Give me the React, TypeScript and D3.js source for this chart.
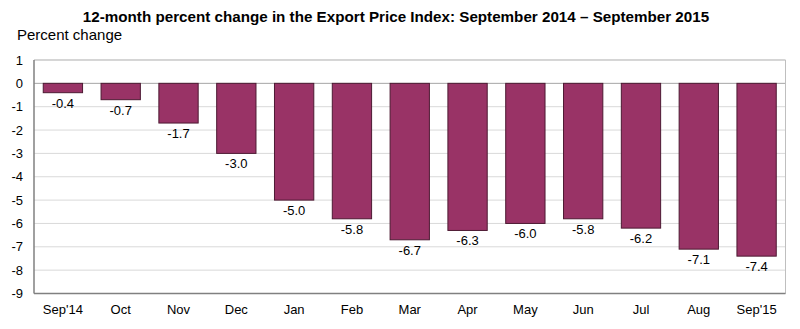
import React from "react";
import * as d3 from "d3";

const categories = ["Sep'14", "Oct", "Nov", "Dec", "Jan", "Feb", "Mar", "Apr", "May", "Jun", "Jul", "Aug", "Sep'15"];
const values = [-0.4, -0.7, -1.7, -3.0, -5.0, -5.8, -6.7, -6.3, -6.0, -5.8, -6.2, -7.1, -7.4];
const yTicks = [1, 0, -1, -2, -3, -4, -5, -6, -7, -8, -9];

const W = 800, H = 329;
const left = 34, right = 785.5, top = 60, bottom = 293.5;
const font = "Arial, 'Liberation Sans', sans-serif";

export default function App() {
  const x = d3.scaleBand<string>().domain(categories).range([left, right]).paddingInner(0.32).paddingOuter(0.16);
  const y = d3.scaleLinear().domain([-9, 1]).range([bottom, top]);
  return (
    <svg width={W} height={H} style={{ position: "absolute", left: 0, top: 0 }} fontFamily={font}>
      <rect x={0} y={0} width={W} height={H} fill="#fff" />
      <text x={396} y={22} textAnchor="middle" fontWeight="bold" fontSize={15.2} fill="#000">
        12-month percent change in the Export Price Index: September 2014 – September 2015
      </text>
      <text x={17} y={40} fontSize={15} fill="#000">Percent change</text>
      {yTicks.map((t) => (
        <line key={"g" + t} x1={left} x2={right} y1={y(t)} y2={y(t)} stroke={t === 0 ? "#a6a6a6" : "#d9d9d9"} strokeWidth={1} />
      ))}
      <line x1={right} x2={right} y1={top} y2={bottom} stroke="#bfbfbf" />
      <line x1={left} x2={right} y1={top} y2={top} stroke="#bfbfbf" />
      {values.map((v, i) => (
        <rect key={"b" + i} x={x(categories[i])} y={y(0)} width={x.bandwidth()} height={y(v) - y(0)}
          fill="#993366" stroke="#4d1a33" strokeWidth={1} />
      ))}
      <line x1={left} x2={left} y1={top} y2={bottom} stroke="#808080" strokeWidth={1.5} />
      <line x1={left} x2={right} y1={bottom} y2={bottom} stroke="#808080" strokeWidth={1.5} />
      {yTicks.map((t) => (
        <text key={"t" + t} x={23} y={y(t) + 4.5} textAnchor="end" fontSize={13} fill="#000">{t}</text>
      ))}
      {categories.map((c) => (
        <text key={"c" + c} x={(x(c) as number) + x.bandwidth() / 2} y={314} textAnchor="middle" fontSize={13} fill="#000">{c}</text>
      ))}
      {values.map((v, i) => (
        <text key={"l" + i} x={(x(categories[i]) as number) + x.bandwidth() / 2} y={y(v) + 15} textAnchor="middle" fontSize={13} fill="#000">
          {v.toFixed(1)}
        </text>
      ))}
    </svg>
  );
}
